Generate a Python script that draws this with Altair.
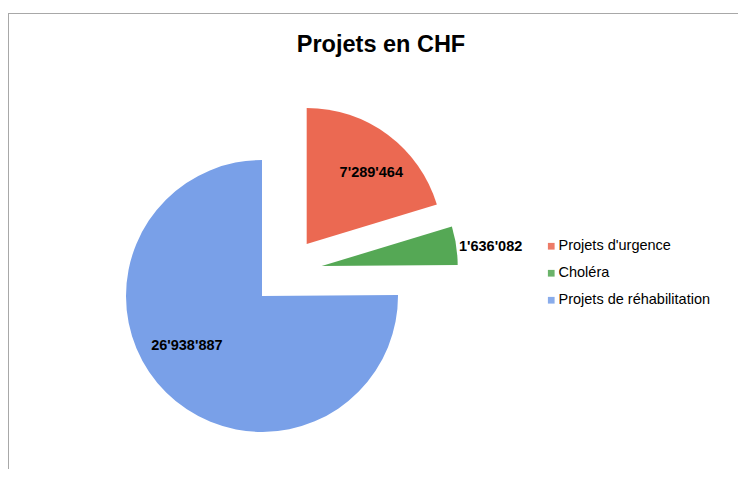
import altair as alt
import pandas as pd

# ---- data ----
categories = ["Projets d'urgence", "Choléra", "Projets de réhabilitation"]
values = [7289464, 1636082, 26938887]
value_labels = ["7'289'464", "1'636'082", "26'938'887"]

# ---- styling / layout ----
colors = ["#EB6952", "#55A855", "#79A0E8"]
FONT = "Liberation Sans"
W, H = 730, 411
PAD_TOP = 50
CX, CY = 254, 238          # pie centre (plot coords)
R = 136
explode_dx = [44.7, 59.7, 0]
explode_dy = [-52, -30, 0]
label_r = [96, 170, 90]
label_shift_deg = [5.7, 2.1, 11.8]

df = pd.DataFrame({
    "i": list(range(len(categories))),
    "cat": categories,
    "value": values,
    "label": value_labels,
})

def arr(a):
    return "[" + ",".join(str(v) for v in a) + "]"

base = alt.Chart(df).transform_window(
    cum="sum(value)", sort=[alt.SortField("i")], frame=[None, 0]
).transform_joinaggregate(
    total="sum(value)"
).transform_calculate(
    a0="2 * PI * (datum.cum - datum.value) / datum.total",
    a1="2 * PI * datum.cum / datum.total",
    mid="PI * (2 * datum.cum - datum.value) / datum.total",
    cx=f"{CX} + {arr(explode_dx)}[datum.i]",
    cy=f"{CY} + {arr(explode_dy)}[datum.i]",
).transform_calculate(
    la=f"datum.mid + {arr(label_shift_deg)}[datum.i] * PI / 180",
).transform_calculate(
    lx=f"datum.cx + {arr(label_r)}[datum.i] * sin(datum.la)",
    ly=f"datum.cy - {arr(label_r)}[datum.i] * cos(datum.la)",
)

arcs = base.mark_arc(radius=R).encode(
    theta=alt.Theta("a0:Q", scale=None, stack=None),
    theta2=alt.Theta2("a1:Q"),
    x=alt.X("cx:Q", scale=None),
    y=alt.Y("cy:Q", scale=None),
    color=alt.Color(
        "cat:N",
        scale=alt.Scale(domain=categories, range=colors),
        sort=categories,
        legend=alt.Legend(
            title=None,
            orient="none",
            legendX=536,
            legendY=181,
            symbolType="square",
            symbolSize=45,
            symbolStrokeWidth=0,
            symbolOpacity=0.88,
            labelFont=FONT,
            labelFontSize=14.5,
            labelColor="black",
            labelOffset=0,
            rowPadding=12,
            padding=0,
        ),
    ),
)

texts = base.mark_text(
    font=FONT, fontSize=14.5, fontWeight="bold", color="black",
    align="center", baseline="middle",
).encode(
    x=alt.X("lx:Q", scale=None),
    y=alt.Y("ly:Q", scale=None),
    text="label:N",
)

frame_df = pd.DataFrame({"k": [0]})
frame_top = alt.Chart(frame_df).mark_rule(color="#A8A8A8", strokeWidth=1).encode(
    x=alt.value(0), x2=alt.value(W), y=alt.value(-44.5)
)
frame_left = alt.Chart(frame_df).mark_rule(color="#A8A8A8", strokeWidth=1).encode(
    x=alt.value(0.5), y=alt.value(-44.5), y2=alt.value(H)
)

chart = alt.layer(frame_top, frame_left, arcs, texts).properties(
    width=W,
    height=H,
    padding={"left": 0, "top": PAD_TOP, "right": 0, "bottom": 0},
    autosize=alt.AutoSizeParams(type="none"),
    title=alt.TitleParams(
        "Projets en CHF",
        font=FONT, fontSize=23.5, fontWeight="bold", color="black",
        anchor="middle", baseline="alphabetic", dx=8, dy=62, offset=0,
    ),
).configure_view(stroke=None)

chart.save("out.html", embed_options={"renderer": "svg", "actions": False})
